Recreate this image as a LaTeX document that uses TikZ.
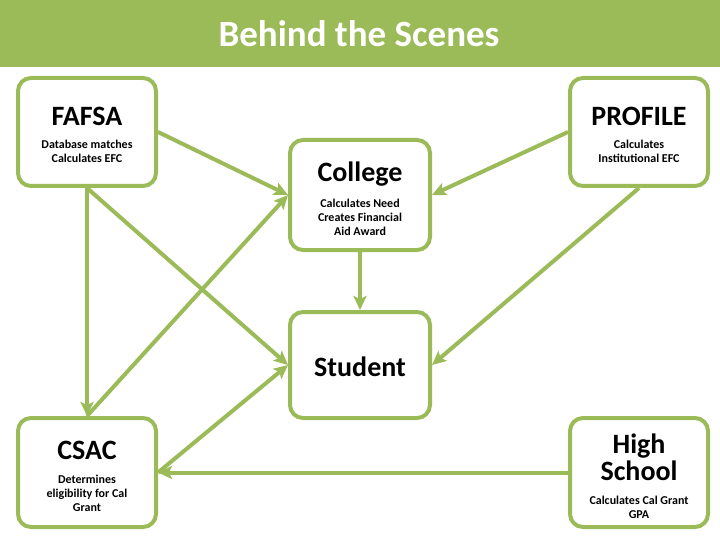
\documentclass[tikz,border=0pt]{standalone}
\usepackage{fontspec}
\setmainfont{Carlito}
\usetikzlibrary{arrows.meta}
\definecolor{grn}{HTML}{9BBB59}
\begin{document}
\begin{tikzpicture}[x=1pt,y=-1pt,
  box/.style={draw=grn,line width=4pt,rounded corners=13pt,fill=white,minimum width=138pt,minimum height=108pt,inner sep=0pt},
  ttl/.style={font=\fontsize{28}{31}\selectfont\bfseries},
  sub/.style={font=\fontsize{12}{17}\selectfont\bfseries,align=center},
  con/.style={draw=grn,line width=4pt,-{Stealth[length=14pt,width=13pt,inset=3pt]}}]
\useasboundingbox (0,0) rectangle (720,540);
\fill[grn] (0,0) rectangle (720,67);
\node[font=\fontsize{37}{40}\selectfont\bfseries,text=white] (title) at (359,34) {Behind the Scenes};
\node[box] (fafsa) at (87,132) {};
\node[box] (profile) at (639,132) {};
\node[box,minimum width=140pt,minimum height=110pt] (college) at (360,195) {};
\node[box,minimum width=140pt,minimum height=106pt] (student) at (360,365) {};
\node[box,minimum height=109pt] (csac) at (87,472.5) {};
\node[box,minimum height=109pt] (hs) at (639,472.5) {};
\node[ttl] (t1) at (87,116) {FAFSA};
\node[sub] (s1) at (87,151) {Database matches\\[-3pt]Calculates EFC};
\node[ttl] (t2) at (639,116) {PROFILE};
\node[sub] (s2) at (639,151) {Calculates\\[-3pt]Institutional EFC};
\node[ttl] (t3) at (360,174) {College};
\node[sub] (s3) at (360,217) {Calculates Need\\[-3pt]Creates Financial\\[-3pt]Aid Award};
\node[ttl] (t4) at (360,367) {Student};
\node[ttl] (t5) at (87,450) {CSAC};
\node[sub] (s5) at (87,493) {Determines\\[-3pt]eligibility for Cal\\[-3pt]Grant};
\node[ttl,align=center] (t6) at (639,457) {High\\[-4pt]School};
\node[sub] (s6) at (639,507) {Calculates Cal Grant\\[-3pt]GPA};
\draw[con] (fafsa.east) -- (college.west);
\draw[con] (profile.west) -- (college.east);
\draw[con] (fafsa.south) -- (csac.north);
\draw[con] (fafsa.south) -- (student.west);
\draw[con] (csac.north) -- (college.west);
\draw[con] (college.south) -- (student.north);
\draw[con] (profile.south) -- (student.east);
\draw[con] (csac.east) -- (student.west);
\draw[con] (hs.west) -- (csac.east);
\end{tikzpicture}
\end{document}
